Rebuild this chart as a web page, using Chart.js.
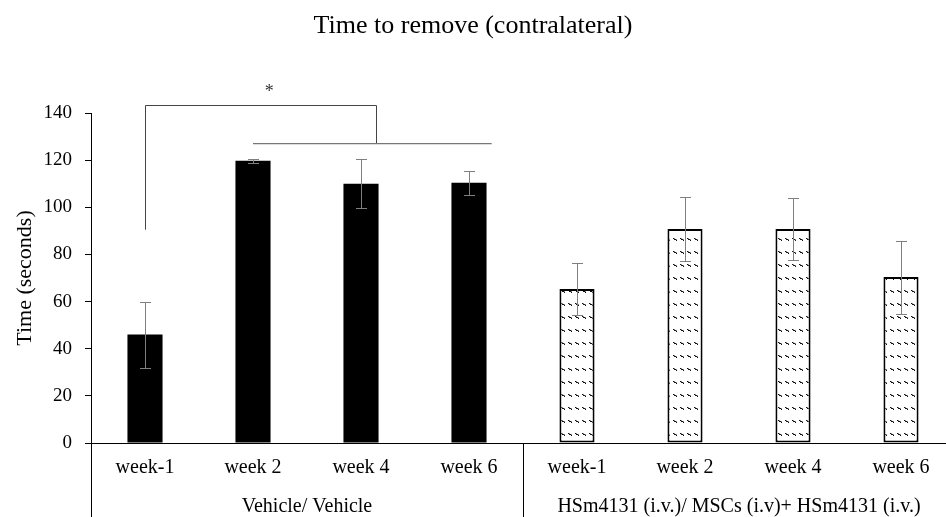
<!DOCTYPE html>
<html>
<head>
<meta charset="utf-8">
<script src="https://cdn.jsdelivr.net/npm/chart.js@4.4.1/dist/chart.umd.min.js"></script>
<style>
  html, body { margin: 0; padding: 0; background: #fff; overflow: hidden; }
  #wrap { width: 946px; height: 517px; overflow: hidden; }
</style>
</head>
<body>
<div id="wrap"><canvas id="myChart" width="960" height="517"></canvas></div>
<script>
var weeks = ['week-1', 'week 2', 'week 4', 'week 6', 'week-1', 'week 2', 'week 4', 'week 6'];
var groups = ['Vehicle/ Vehicle', 'HSm4131 (i.v.)/ MSCs (i.v)+ HSm4131 (i.v.)'];
var groupSize = [4, 4];
var meanTime = [46, 119.7, 110, 110.4, 65.3, 90.8, 90.8, 70.4];
var errTime = [14, 0.7, 10.5, 5, 11, 13.5, 13, 15.5];
var yTicks = [0, 20, 40, 60, 80, 100, 120, 140];

// significance bracket (category index, seconds)
var sigLeft = [0, 90.5, 143.3];
var sigRight = [2.14, 127];
var sigBar = [1, 3.21, 127];
var sigMark = ['*', 1.15, 150];

var serif = 'Liberation Serif, Times New Roman, serif';

function makeHatch() {
    var c = document.createElement('canvas');
    c.width = 7; c.height = 13;
    var g = c.getContext('2d');
    g.fillStyle = '#fff';
    g.fillRect(0, 0, 7, 13);
    // little "\" dash
    g.fillStyle = '#111';
    g.fillRect(1, 4, 1, 1);
    g.fillRect(2, 5, 2, 1);
    g.fillRect(4, 6, 1, 1);
    g.fillStyle = '#888';
    g.fillRect(2, 4, 1, 1);
    g.fillRect(4, 5, 1, 1);
    return g.createPattern(c, 'repeat');
}
var hatch = makeHatch();

var fills = [], borders = [];
for (var i = 0; i < weeks.length; i++) {
    fills.push(i < groupSize[0] ? '#000' : hatch);
    borders.push(i < groupSize[0] ? 0 : 2);
}

function xAt(chart, idx) {
    var xs = chart.scales.x;
    var step = xs.getPixelForValue(1) - xs.getPixelForValue(0);
    return xs.getPixelForValue(0) + step * idx;
}

var extras = {
    id: 'extras',
    afterLayout: function (chart) {
        // centre the title on the visible page
        if (chart.titleBlock) chart.titleBlock.right = 946;
    },
    afterDraw: function (chart) {
        var ctx = chart.ctx, ys = chart.scales.y, area = chart.chartArea;
        var meta = chart.getDatasetMeta(0);
        ctx.save();

        // error bars
        ctx.strokeStyle = '#7f7f7f';
        ctx.lineWidth = 1;
        meta.data.forEach(function (bar, i) {
            var x = Math.round(bar.x) + 0.5;
            var yt = Math.round(ys.getPixelForValue(meanTime[i] + errTime[i])) + 0.5;
            var yb = Math.round(ys.getPixelForValue(meanTime[i] - errTime[i])) + 0.5;
            ctx.beginPath();
            ctx.moveTo(x, yt); ctx.lineTo(x, yb);
            ctx.moveTo(x - 5.5, yt); ctx.lineTo(x + 5.5, yt);
            ctx.moveTo(x - 5.5, yb); ctx.lineTo(x + 5.5, yb);
            ctx.stroke();
        });

        // group separators below the axis
        ctx.strokeStyle = '#000';
        ctx.beginPath();
        var pos = -0.5;
        for (var g = 0; g <= groups.length; g++) {
            var sx = Math.round(xAt(chart, pos)) + 0.5;
            ctx.moveTo(sx, area.bottom);
            ctx.lineTo(sx, chart.height);
            if (g < groups.length) pos += groupSize[g];
        }
        ctx.stroke();

        // group labels
        ctx.fillStyle = '#000';
        ctx.font = '20px ' + serif;
        ctx.textAlign = 'center';
        ctx.textBaseline = 'alphabetic';
        var start = 0;
        groups.forEach(function (name, g) {
            var cx = xAt(chart, start + (groupSize[g] - 1) / 2);
            ctx.fillText(name, cx, 512);
            start += groupSize[g];
        });

        // significance bracket
        ctx.strokeStyle = '#444';
        ctx.lineWidth = 1;
        var lx = Math.round(xAt(chart, sigLeft[0])) + 0.5;
        var rx = Math.round(xAt(chart, sigRight[0])) + 0.5;
        var ty = Math.round(ys.getPixelForValue(sigLeft[2])) + 0.5;
        ctx.beginPath();
        ctx.moveTo(lx, ys.getPixelForValue(sigLeft[1]));
        ctx.lineTo(lx, ty);
        ctx.lineTo(rx, ty);
        ctx.lineTo(rx, ys.getPixelForValue(sigRight[1]));
        ctx.stroke();

        ctx.strokeStyle = '#777';
        ctx.lineWidth = 1.4;
        var by = ys.getPixelForValue(sigBar[2]);
        ctx.beginPath();
        ctx.moveTo(xAt(chart, sigBar[0]), by);
        ctx.lineTo(xAt(chart, sigBar[1]), by);
        ctx.stroke();

        ctx.fillStyle = '#333';
        ctx.font = '18px ' + serif;
        ctx.textBaseline = 'middle';
        ctx.fillText(sigMark[0], xAt(chart, sigMark[1]), ys.getPixelForValue(sigMark[2]) + 3);

        ctx.restore();
    }
};

var ctx = document.getElementById('myChart');

var chartGraph = new Chart(ctx, {
    type: 'bar',
    data: {
        labels: weeks,
        datasets: [{
            label: 'Time to remove',
            data: meanTime,
            backgroundColor: fills,
            borderColor: '#000',
            borderWidth: borders,
            borderSkipped: false,
            barPercentage: 0.325,
            categoryPercentage: 1
        }]
    },
    options: {
        responsive: false,
        animation: false,
        devicePixelRatio: 1,
        layout: { padding: { left: 0, right: 5, top: 0, bottom: 0 } },
        plugins: {
            legend: { display: false },
            tooltip: { enabled: false },
            title: {
                display: true,
                text: 'Time to remove (contralateral)',
                color: '#000',
                font: { family: serif, size: 26, weight: 'normal' },
                padding: { top: 10.6, bottom: 71.2 }
            }
        },
        scales: {
            x: {
                ticks: {
                    color: '#000',
                    font: { family: serif, size: 20 },
                    padding: 13,
                    maxRotation: 0,
                    autoSkip: false
                },
                grid: { display: false, drawTicks: false },
                border: { color: '#000', width: 1 },
                afterFit: function (s) { s.height = 74; }
            },
            y: {
                min: yTicks[0],
                max: yTicks[yTicks.length - 1],
                afterBuildTicks: function (s) {
                    s.ticks = yTicks.map(function (v) { return { value: v }; });
                },
                ticks: {
                    color: '#000',
                    font: { family: serif, size: 19 },
                    padding: 13
                },
                grid: { drawOnChartArea: false, drawTicks: true, tickLength: 6, tickColor: '#000' },
                border: { color: '#000', width: 1 },
                title: {
                    display: true,
                    text: 'Time (seconds)',
                    color: '#000',
                    font: { family: serif, size: 22 },
                    padding: { top: 12, bottom: 0 }
                },
                afterFit: function (s) { s.width = 91; }
            }
        }
    },
    plugins: [extras]
});
</script>
</body>
</html>
